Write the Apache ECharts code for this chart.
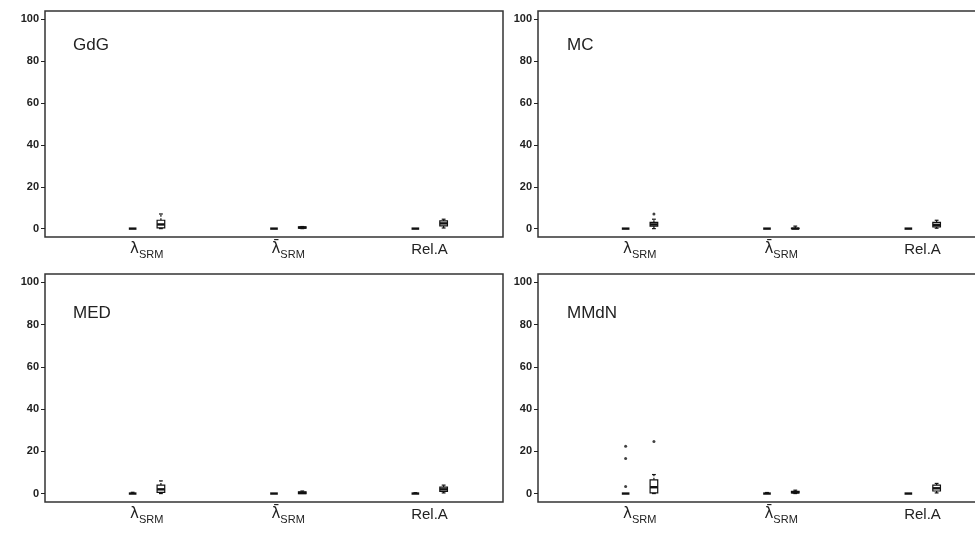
<!DOCTYPE html>
<html><head><meta charset="utf-8">
<script src="https://cdn.jsdelivr.net/npm/echarts@6/dist/echarts.min.js"></script>
<style>html,body{margin:0;padding:0;background:#fff}#c{width:975px;height:538px}</style>
</head><body><div id="c"></div>
<script>
// ---- data ----
const categories = ['λSRM', 'λ̄SRM', 'Rel.A'];
const categoryCenters = [1.1, 2.1, 3.1];
const boxPositions = [1, 1.2, 2, 2.2, 3, 3.2];
const yTicks = [0, 20, 40, 60, 80, 100];
const panelNames = ['GdG', 'MC', 'MED', 'MMdN'];

// [min, q1, median, q3, max] for each box position
const gdgBoxes = [[0,0,0,0,0],[0,0.4,2,4,7],[0,0,0,0,0],[0,0.2,0.5,0.8,1],[0,0,0,0,0],[0.3,1.3,2.5,3.7,4.5]];
const mcBoxes  = [[0,0,0,0,0],[0,1.2,2,3,4.5],[0,0,0,0,0],[0,0,0,0.2,1.2],[0,0,0,0,0],[0.2,0.8,1.8,3,4]];
const medBoxes = [[0,0,0,0,0.6],[0,0.6,2,4,6],[0,0,0,0,0],[0,0,0.3,0.8,1.2],[0,0,0,0,0.4],[0.3,1,2,3,4]];
const mmdnBoxes= [[0,0,0,0,0],[0,0.3,3,6.5,9],[0,0,0,0,0.5],[0,0.3,0.6,1,1.6],[0,0,0,0,0],[0.3,1.2,2.5,4,4.8]];

// outliers: [box position index, value]
const gdgOutliers = [];
const mcOutliers = [[1, 7]];
const medOutliers = [];
const mmdnOutliers = [[0, 22.4], [0, 16.6], [0, 3.4], [1, 24.6]];

const panelBoxes = [gdgBoxes, mcBoxes, medBoxes, mmdnBoxes];
const panelOutliers = [gdgOutliers, mcOutliers, medOutliers, mmdnOutliers];

// ---- layout ----
const grids = [
  {left: 45, top: 11, width: 458, height: 226},
  {left: 538, top: 11, width: 458, height: 226},
  {left: 45, top: 274, width: 458, height: 228},
  {left: 538, top: 274, width: 458, height: 228}
];
const BOX_HALF = 0.027;

function renderBox(params, api) {
  const x = api.value(0);
  const mn = api.value(1), q1 = api.value(2), md = api.value(3), q3 = api.value(4), mx = api.value(5);
  const pMin = api.coord([x, mn]), pQ1 = api.coord([x, q1]), pMd = api.coord([x, md]),
        pQ3 = api.coord([x, q3]), pMax = api.coord([x, mx]);
  const l = api.coord([x - BOX_HALF, md])[0], r = api.coord([x + BOX_HALF, md])[0];
  const sl = api.coord([x - BOX_HALF * 0.5, md])[0], sr = api.coord([x + BOX_HALF * 0.5, md])[0];
  const cx = pMd[0];
  const st = {stroke: '#111', lineWidth: 1.2, fill: null};
  const children = [];
  if (mx > q3) {
    children.push({type: 'line', shape: {x1: cx, y1: pQ3[1], x2: cx, y2: pMax[1]}, style: Object.assign({}, st, {lineDash: [2, 1.5]})});
    children.push({type: 'line', shape: {x1: sl, y1: pMax[1], x2: sr, y2: pMax[1]}, style: st});
  }
  if (mn < q1) {
    children.push({type: 'line', shape: {x1: cx, y1: pQ1[1], x2: cx, y2: pMin[1]}, style: Object.assign({}, st, {lineDash: [2, 1.5]})});
    children.push({type: 'line', shape: {x1: sl, y1: pMin[1], x2: sr, y2: pMin[1]}, style: st});
  }
  if (q3 > q1) {
    children.push({type: 'rect', shape: {x: l, y: pQ3[1], width: r - l, height: pQ1[1] - pQ3[1]}, style: {fill: '#fff', stroke: '#111', lineWidth: 1.2}});
  }
  children.push({type: 'line', shape: {x1: l, y1: pMd[1], x2: r, y2: pMd[1]}, style: {stroke: '#111', lineWidth: 2.4}});
  return {type: 'group', children: children};
}

const xAxes = [], yAxes = [], series = [], titles = [];
const titlePos = [[68, 32], [562, 32], [68, 300], [562, 300]];
grids.forEach(function (g, i) {
  xAxes.push({
    type: 'value', gridIndex: i, min: 0.38, max: 3.62,
    splitLine: {show: false}, axisLine: {show: false}, axisTick: {show: false},
    axisLabel: {
      customValues: categoryCenters, margin: 5,
      formatter: function (v) {
        const k = categoryCenters.findIndex(function (c) { return Math.abs(c - v) < 1e-6; });
        if (k === 0) return '{l|λ}{s|SRM}';
        if (k === 1) return '{l|λ̄}{s|SRM}';
        if (k === 2) return '{r|' + categories[2] + '}';
        return '';
      },
      rich: {
        l: {fontFamily: 'DejaVu Sans', fontSize: 15, color: '#222', verticalAlign: 'top', lineHeight: 16},
        s: {fontFamily: 'Liberation Sans', fontSize: 11, color: '#222', verticalAlign: 'top', lineHeight: 16, padding: [7, 0, 0, 0]},
        r: {fontFamily: 'Liberation Sans', fontSize: 15, color: '#222', verticalAlign: 'top', lineHeight: 16}
      }
    }
  });
  yAxes.push({
    type: 'value', gridIndex: i, min: -4, max: 104,
    splitLine: {show: false},
    axisLine: {show: false},
    axisTick: {show: true, customValues: yTicks, length: 4, lineStyle: {color: '#222', width: 1}},
    axisLabel: {customValues: yTicks, margin: 6, fontFamily: 'Liberation Sans', fontSize: 11, fontWeight: 'bold', color: '#222'}
  });
  const boxes = panelBoxes[i];
  series.push({
    type: 'custom', xAxisIndex: i, yAxisIndex: i,
    renderItem: renderBox,
    encode: {x: 0, y: [1, 2, 3, 4, 5]},
    data: boxes.map(function (b, k) { return [boxPositions[k]].concat(b); }),
    silent: true, clip: false
  });
  series.push({
    type: 'scatter', xAxisIndex: i, yAxisIndex: i,
    symbol: 'circle', symbolSize: 3,
    itemStyle: {color: '#111'},
    data: panelOutliers[i].map(function (o) { return [boxPositions[o[0]], o[1]]; }),
    silent: true
  });
  titles.push({
    text: panelNames[i], left: titlePos[i][0], top: titlePos[i][1],
    textStyle: {fontFamily: 'Liberation Sans', fontSize: 17, fontWeight: 'normal', color: '#222'}
  });
});

const chart = echarts.init(document.getElementById('c'), null, {renderer: 'canvas'});
chart.setOption({
  animation: false,
  backgroundColor: '#fff',
  title: titles,
  grid: grids.map(function (g) { return Object.assign({show: true, borderColor: '#333', borderWidth: 1.5, backgroundColor: 'transparent', containLabel: false, outerBoundsMode: 'none'}, g); }),
  xAxis: xAxes,
  yAxis: yAxes,
  series: series
});
</script></body></html>
